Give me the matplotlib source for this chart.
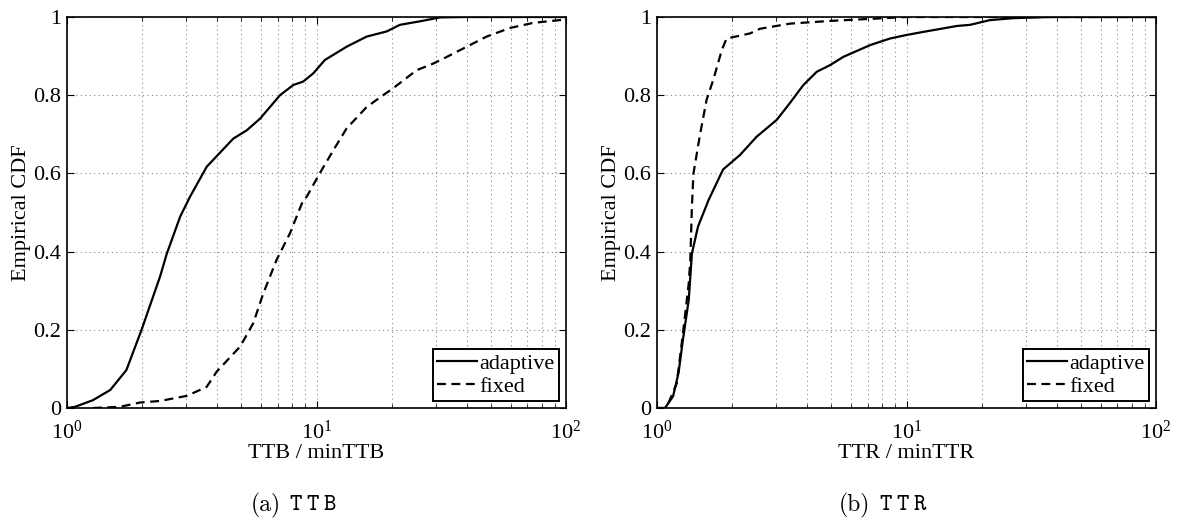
import os
import numpy as np
import matplotlib
matplotlib.use('Agg')
from matplotlib import pyplot as plt
from matplotlib.font_manager import FontProperties

plt.rcParams['font.family'] = ['Liberation Serif', 'DejaVu Serif']
plt.rcParams['mathtext.fontset'] = 'custom'
plt.rcParams['mathtext.rm'] = 'Liberation Serif'
plt.rcParams['mathtext.it'] = 'Liberation Serif:italic'
plt.rcParams['font.size'] = 16

ttf_dir = os.path.join(matplotlib.get_data_path(), 'fonts', 'ttf')
cm_roman = FontProperties(fname=os.path.join(ttf_dir, 'cmr10.ttf'), size=17)
cm_mono = FontProperties(fname=os.path.join(ttf_dir, 'cmtt10.ttf'), size=17)

# TTB / minTTB, empirical CDF
ttb_adaptive_x = [1.0, 1.077, 1.27, 1.49, 1.73, 1.99, 2.36, 2.51, 2.84, 3.11, 3.63, 4.64, 5.25,
                  5.94, 7.14, 8.07, 8.85, 9.71, 10.8, 13.2, 15.9, 19.1, 21.6, 26.0, 31.3, 40.0, 100.0]
ttb_adaptive_y = [0.0, 0.003, 0.02, 0.046, 0.097, 0.20, 0.336, 0.394, 0.489, 0.54, 0.617, 0.689, 0.71,
                  0.74, 0.80, 0.826, 0.835, 0.856, 0.89, 0.924, 0.95, 0.963, 0.98, 0.989, 0.999, 1.0, 1.0]
ttb_fixed_x = [1.27, 1.63, 1.96, 2.36, 3.02, 3.63, 3.98, 4.94, 5.58, 6.12, 6.92, 7.83, 8.85, 9.13,
               10.3, 11.7, 13.2, 15.9, 18.5, 20.3, 25.2, 29.4, 33.3, 40.0, 48.1, 59.7, 73.9, 97.5, 100.0]
ttb_fixed_y = [0.0, 0.003, 0.014, 0.018, 0.031, 0.054, 0.093, 0.157, 0.217, 0.293, 0.379, 0.447, 0.532,
               0.54, 0.60, 0.66, 0.715, 0.77, 0.80, 0.818, 0.864, 0.881, 0.898, 0.924, 0.95, 0.972,
               0.985, 0.993, 1.0]

# TTR / minTTR, empirical CDF
ttr_adaptive_x = [1.0, 1.077, 1.16, 1.22, 1.27, 1.34, 1.38, 1.46, 1.61, 1.84, 2.15, 2.51, 3.02, 3.41,
                  3.86, 4.37, 4.94, 5.58, 7.14, 8.59, 10.0, 11.7, 15.9, 18.0, 19.7, 21.6, 26.8, 37.6, 100.0]
ttr_adaptive_y = [0.0, 0.0, 0.03, 0.09, 0.174, 0.276, 0.395, 0.464, 0.532, 0.61, 0.647, 0.694, 0.737,
                  0.78, 0.826, 0.86, 0.877, 0.898, 0.928, 0.945, 0.954, 0.962, 0.977, 0.98, 0.986,
                  0.992, 0.997, 1.0, 1.0]
ttr_fixed_x = [1.0, 1.09, 1.2, 1.27, 1.34, 1.36, 1.38, 1.40, 1.49, 1.58, 1.68, 1.82, 1.90, 2.36, 2.59,
               3.41, 4.94, 7.6, 10.0, 100.0]
ttr_fixed_y = [0.0, 0.0, 0.063, 0.19, 0.318, 0.378, 0.515, 0.6, 0.702, 0.788, 0.839, 0.916, 0.945,
               0.958, 0.97, 0.983, 0.99, 0.996, 1.0, 1.0]

panels = [
    (ttb_adaptive_x, ttb_adaptive_y, ttb_fixed_x, ttb_fixed_y, 'TTB / minTTB', '(a)', 'TTB'),
    (ttr_adaptive_x, ttr_adaptive_y, ttr_fixed_x, ttr_fixed_y, 'TTR / minTTR', '(b)', 'TTR'),
]

fig = plt.figure(figsize=(11.81, 5.18), dpi=100)
lefts = [67 / 1181, 657 / 1181]

for left, (ax_x, ax_y, fx_x, fx_y, xlabel, tag, name) in zip(lefts, panels):
    ax = fig.add_axes([left, 1 - 408 / 518, 499 / 1181, 391 / 518])
    ax.plot(ax_x, ax_y, color='black', lw=1.6, ls='-', label='adaptive')
    ax.plot(fx_x, fx_y, color='black', lw=1.6, ls=(0, (4, 2.5)), label='fixed')
    ax.set_xscale('log')
    ax.set_xlim(1, 100)
    ax.set_ylim(0, 1)
    ax.set_yticks([0, 0.2, 0.4, 0.6, 0.8, 1])
    ax.set_yticklabels(['0', '0.2', '0.4', '0.6', '0.8', '1'])
    ax.grid(True, which='both', axis='x', ls=(0, (1, 3)), color='#888888', lw=0.8)
    ax.grid(True, which='major', axis='y', ls=(0, (1, 3)), color='#888888', lw=0.8)
    ax.tick_params(which='both', direction='in', top=True, right=True)
    ax.tick_params(axis='y', pad=4)
    ax.tick_params(axis='x', pad=9)
    ax.tick_params(which='major', length=5)
    ax.tick_params(which='minor', length=3)
    for s in ax.spines.values():
        s.set_linewidth(1.2)
    ax.set_xlabel(xlabel, labelpad=0)
    ax.set_ylabel('Empirical CDF', labelpad=2)
    leg = ax.legend(loc='lower right', handlelength=1.8, handletextpad=0.1, borderpad=0.2,
                    labelspacing=0.1, borderaxespad=0.3, fancybox=False, framealpha=1)
    leg.get_frame().set_edgecolor('black')
    leg.get_frame().set_linewidth(1.4)

    # subfigure caption: roman tag followed by letter-spaced typewriter name
    mid = left + 0.5 * 499 / 1181
    fig.text(mid - 36 / 1181, 1 - 505 / 518, tag, fontproperties=cm_roman, ha='right', va='center')
    for i, ch in enumerate(name):
        fig.text(mid - 27 / 1181 + i * 17 / 1181, 1 - 505 / 518, ch, fontproperties=cm_mono,
                 ha='left', va='center')

fig.savefig('out.png', dpi=100)
